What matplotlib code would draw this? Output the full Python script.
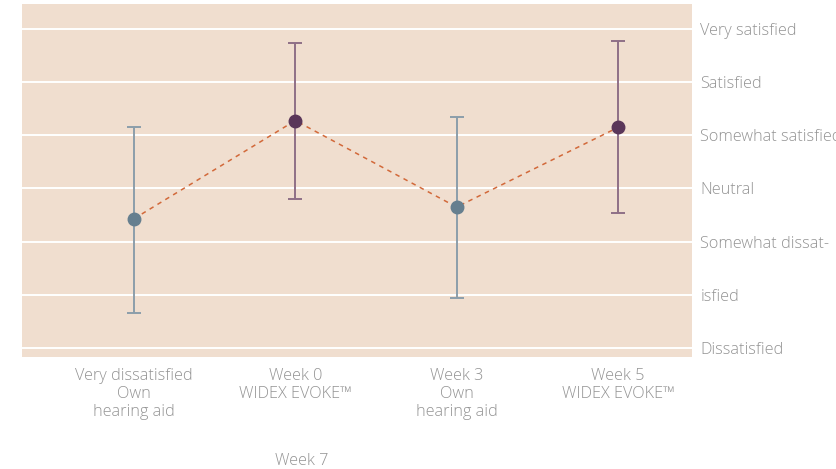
import matplotlib
matplotlib.use("Agg")
import matplotlib.pyplot as plt

# Data
categories = ["Very dissatisfied\nOwn\nhearing aid", "Week 0\nWIDEX EVOKE™",
              "Week 3\nOwn\nhearing aid", "Week 5\nWIDEX EVOKE™"]
means = [3.43, 5.28, 3.65, 5.15]
upper = [5.16, 6.75, 5.35, 6.77]
lower = [1.65, 3.81, 1.94, 3.53]
groups = ["own", "evoke", "own", "evoke"]
y_levels = [1, 2, 3, 4, 5, 6, 7]
y_labels = ["Dissatisfied", "isfied", "Somewhat dissat-", "Neutral",
            "Somewhat satisfied", "Satisfied", "Very satisfied"]
extra_label = "Week 7"

BG = "#F0DECF"
TXT = "#939393"
marker_col = {"own": "#667F8F", "evoke": "#5A3659"}
err_col = {"own": "#8C9EAA", "evoke": "#8F6F87"}
LINE = "#D2693A"

plt.rcParams['font.family'] = ['Open Sans', 'DejaVu Sans']
plt.rcParams['font.weight'] = 300

fig = plt.figure(figsize=(8.37, 4.69), dpi=100)
ax = fig.add_axes([22/837, 1-357/469, (692-22)/837, (357-4)/469])
ax.set_facecolor(BG)
for s in ax.spines.values():
    s.set_visible(False)

x = list(range(len(categories)))
for yl in y_levels:
    ax.axhline(yl, color="white", lw=1.4, zorder=1)

ax.plot(x, means, ls=(0, (3, 3)), color=LINE, lw=1.1, zorder=2)
for xi, m, u, l, g in zip(x, means, upper, lower, groups):
    ax.errorbar([xi], [m], yerr=[[m - l], [u - m]], fmt="none",
                ecolor=err_col[g], elinewidth=1.4, capsize=5, capthick=1.4, zorder=3)
    ax.plot([xi], [m], "o", color=marker_col[g], ms=9, zorder=4)

FS = 11.7
ax.set_xlim(-0.694, 3.459)
ax.set_ylim(0.825, 7.476)
ax.set_xticks(x)
ax.set_xticklabels(categories, color=TXT, fontsize=FS, linespacing=1.17)
ax.yaxis.tick_right()
ax.set_yticks(y_levels)
ax.set_yticklabels(y_labels, color=TXT, fontsize=FS)
ax.tick_params(axis="both", length=0)
ax.tick_params(axis="x", pad=8)
ax.tick_params(axis="y", pad=6)

fig.text(302/837, 1-461/469, extra_label, color=TXT, fontsize=FS,
         ha="center", va="center")

fig.savefig("out.png", dpi=100)
